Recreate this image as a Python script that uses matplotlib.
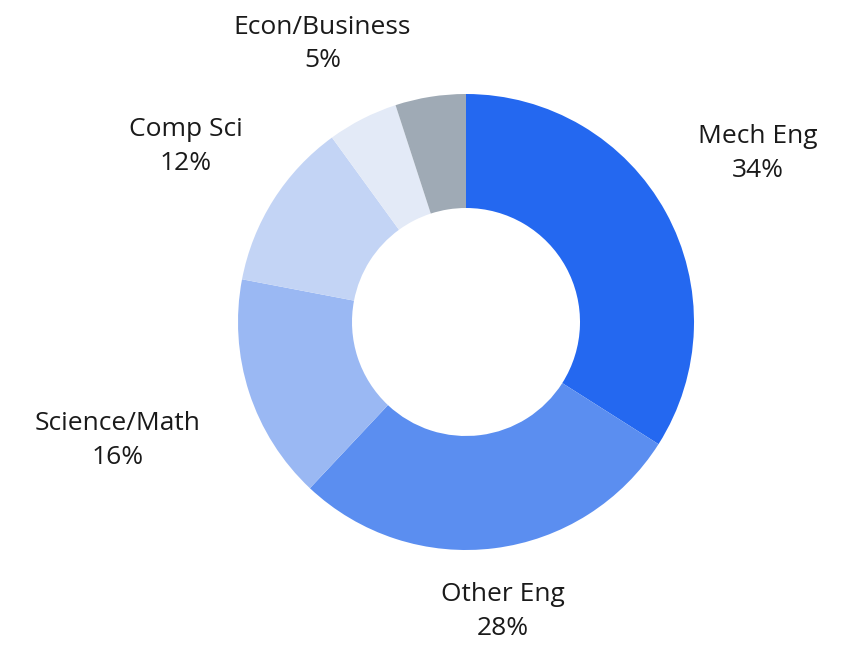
import matplotlib.pyplot as plt

labels = ["Mech Eng", "Other Eng", "Science/Math", "Comp Sci", "Econ/Business", ""]
values = [34, 28, 16, 12, 5, 5]
pct_text = ["34%", "28%", "16%", "12%", "5%", ""]
colors = ["#2468f0", "#5b8ef0", "#9ab8f3", "#c3d4f5", "#e3eaf7", "#9faab5"]
# label anchor positions in radius units (relative to donut centre)
label_pos = [(1.28, 0.74), (0.16, -1.27), (-1.53, -0.52), (-1.23, 0.77), (-0.63, 1.22), None]

fig = plt.figure(figsize=(8.5, 6.5), dpi=100)
W, H = 850, 650
cx, cy, r = 466, 322, 228
ax = fig.add_axes([(cx - r) / W, (H - cy - r) / H, 2 * r / W, 2 * r / H])
ax.pie(values, colors=colors, startangle=90, counterclock=False, radius=1,
       wedgeprops=dict(width=0.5, edgecolor="white", linewidth=0))
ax.set_xlim(-1, 1)
ax.set_ylim(-1, 1)
ax.set_aspect("equal")
ax.axis("off")

for lab, pct, pos in zip(labels, pct_text, label_pos):
    if pos is None:
        continue
    ax.text(pos[0], pos[1], lab + "\n" + pct, ha="center", va="center",
            fontsize=19, family="Open Sans", fontweight="medium",
            color="#1a1a1a", linespacing=1.45, clip_on=False)

fig.savefig("out.png", facecolor="white")
